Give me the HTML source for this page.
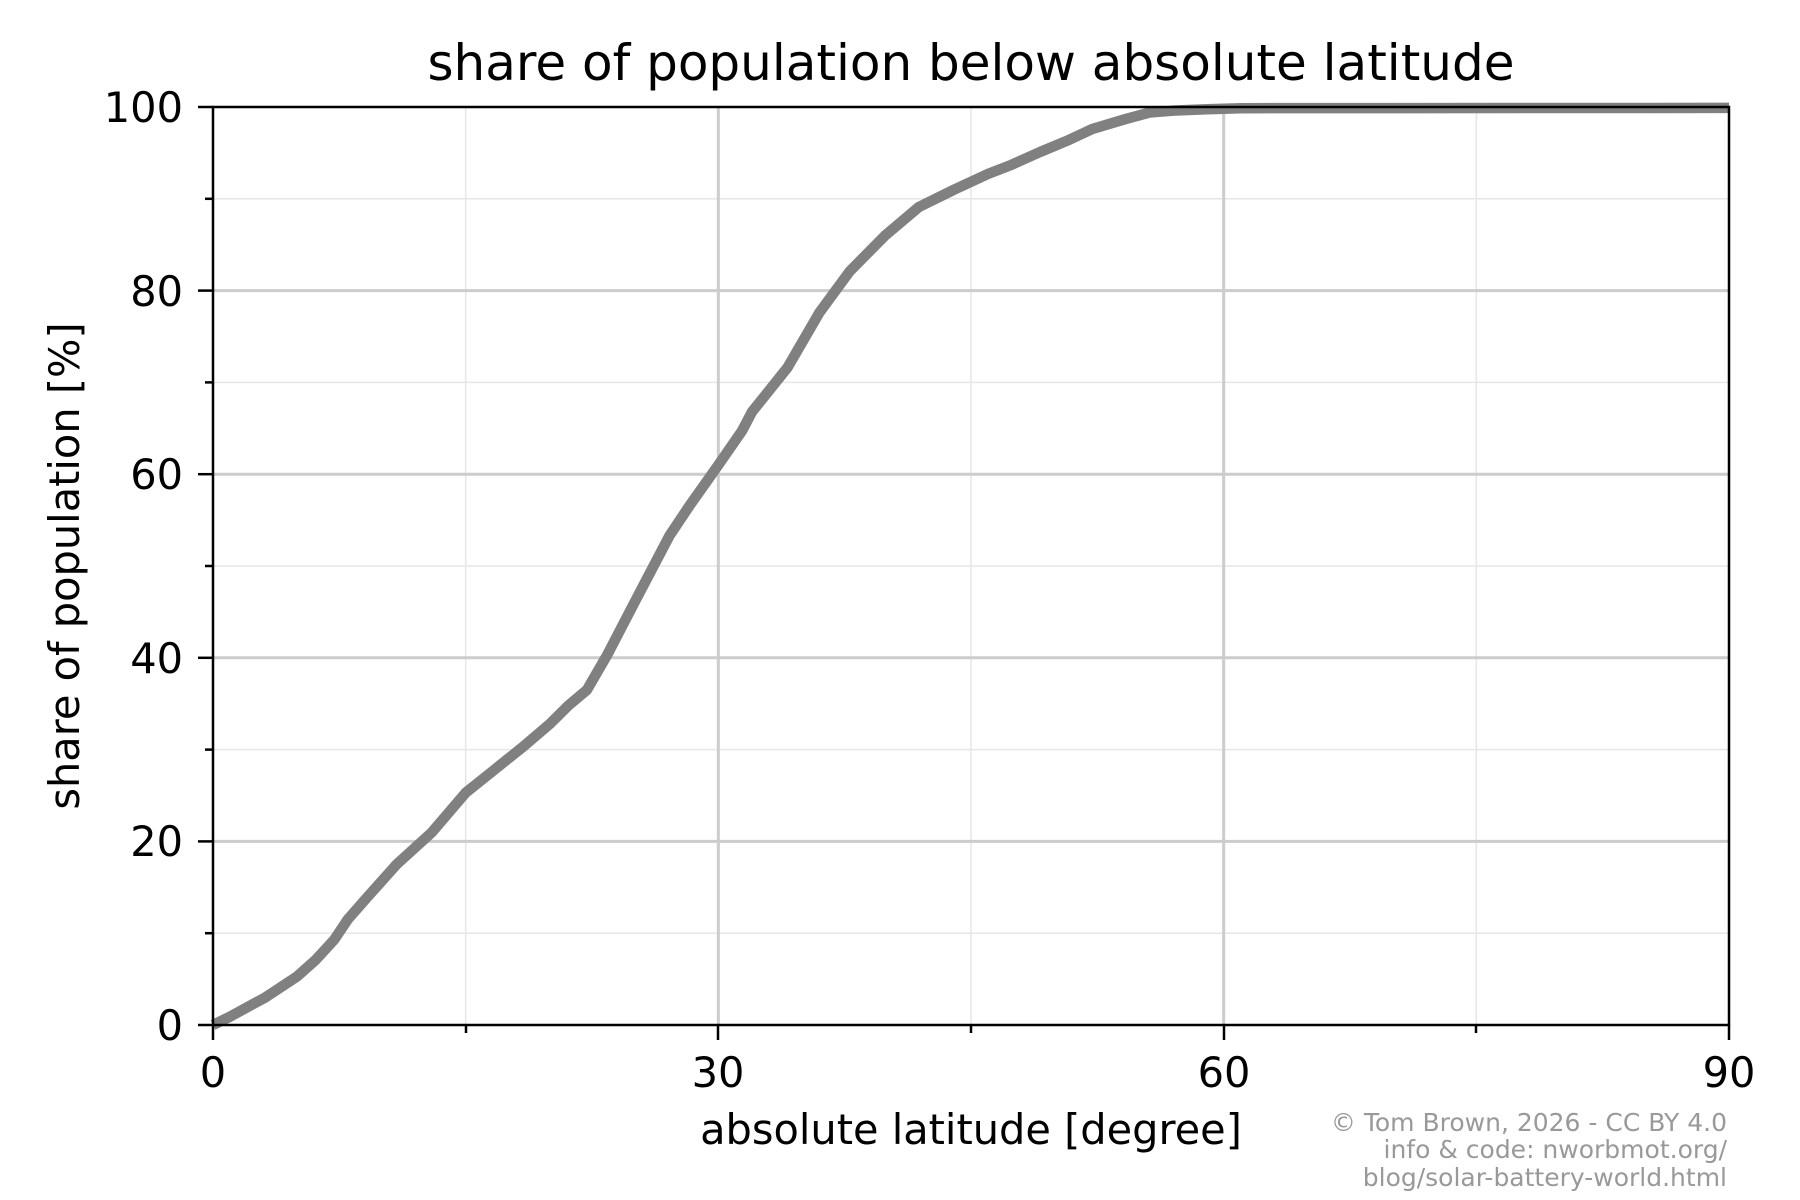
<!DOCTYPE html>
<html><head><meta charset="utf-8"><style>
html,body{margin:0;padding:0;background:#fff;}
svg{display:block;font-family:"DejaVu Sans","Liberation Sans",sans-serif;}
</style></head><body>
<svg width="1800" height="1200" viewBox="0 0 1800 1200" xmlns="http://www.w3.org/2000/svg">
<rect width="1800" height="1200" fill="#fff"/>
<g transform="translate(213,1025) scale(16.8444,-9.18)">
 <g stroke="#e6e6e6" stroke-width="1.5" fill="none">
  <line x1="15" y1="0" x2="15" y2="100" vector-effect="non-scaling-stroke"/>
  <line x1="45" y1="0" x2="45" y2="100" vector-effect="non-scaling-stroke"/>
  <line x1="75" y1="0" x2="75" y2="100" vector-effect="non-scaling-stroke"/>
  <line x1="0" y1="10" x2="90" y2="10" vector-effect="non-scaling-stroke"/>
  <line x1="0" y1="30" x2="90" y2="30" vector-effect="non-scaling-stroke"/>
  <line x1="0" y1="50" x2="90" y2="50" vector-effect="non-scaling-stroke"/>
  <line x1="0" y1="70" x2="90" y2="70" vector-effect="non-scaling-stroke"/>
  <line x1="0" y1="90" x2="90" y2="90" vector-effect="non-scaling-stroke"/>
 </g>
 <g stroke="#cccccc" stroke-width="3" fill="none">
  <line x1="30" y1="0" x2="30" y2="100" vector-effect="non-scaling-stroke"/>
  <line x1="60" y1="0" x2="60" y2="100" vector-effect="non-scaling-stroke"/>
  <line x1="0" y1="20" x2="90" y2="20" vector-effect="non-scaling-stroke"/>
  <line x1="0" y1="40" x2="90" y2="40" vector-effect="non-scaling-stroke"/>
  <line x1="0" y1="60" x2="90" y2="60" vector-effect="non-scaling-stroke"/>
  <line x1="0" y1="80" x2="90" y2="80" vector-effect="non-scaling-stroke"/>
 </g>
 <polyline fill="none" stroke="#808080" stroke-width="10.5" stroke-linejoin="round" vector-effect="non-scaling-stroke" points="0,0 1,0.9 3.1,3 5,5.3 6.1,7.1 7.2,9.3 8,11.5 9.1,13.8 10.9,17.5 13,21 15,25.3 16.7,27.8 18.4,30.3 20,32.8 21.1,34.8 22.2,36.5 23.4,40.3 24.9,45.6 27.1,53.3 28.3,56.6 30,61 31.4,64.7 32,66.8 34.1,71.6 36,77.6 37.8,82.1 39.9,86 41.9,89.1 44,91 46,92.7 47.4,93.7 49.1,95.1 50.8,96.4 52.2,97.6 54.2,98.7 55.6,99.4 57,99.6 59,99.75 61,99.87 90,99.9"/>
</g>
<rect x="213" y="107" width="1516" height="918" fill="none" stroke="#000" stroke-width="2.5"/>
<g stroke="#000" stroke-width="2.5">
 <line x1="213" y1="1025" x2="213" y2="1040"/>
 <line x1="718" y1="1025" x2="718" y2="1040"/>
 <line x1="1224" y1="1025" x2="1224" y2="1040"/>
 <line x1="1729" y1="1025" x2="1729" y2="1040"/>
 <line x1="466" y1="1025" x2="466" y2="1033"/>
 <line x1="971" y1="1025" x2="971" y2="1033"/>
 <line x1="1476" y1="1025" x2="1476" y2="1033"/>
 <line x1="198" y1="1025" x2="213" y2="1025"/>
 <line x1="198" y1="841.4" x2="213" y2="841.4"/>
 <line x1="198" y1="657.8" x2="213" y2="657.8"/>
 <line x1="198" y1="474.2" x2="213" y2="474.2"/>
 <line x1="198" y1="290.6" x2="213" y2="290.6"/>
 <line x1="198" y1="107" x2="213" y2="107"/>
 <line x1="205" y1="933.2" x2="213" y2="933.2"/>
 <line x1="205" y1="749.6" x2="213" y2="749.6"/>
 <line x1="205" y1="566" x2="213" y2="566"/>
 <line x1="205" y1="382.4" x2="213" y2="382.4"/>
 <line x1="205" y1="198.8" x2="213" y2="198.8"/>
</g>
<g font-size="41.5" fill="#000" text-anchor="end">
 <text x="183" y="1040">0</text>
 <text x="183" y="856">20</text>
 <text x="183" y="673">40</text>
 <text x="183" y="489">60</text>
 <text x="183" y="306">80</text>
 <text x="183" y="122">100</text>
</g>
<g font-size="41.5" fill="#000" text-anchor="middle">
 <text x="213" y="1087">0</text>
 <text x="718" y="1087">30</text>
 <text x="1224" y="1087">60</text>
 <text x="1729" y="1087">90</text>
 <text x="971" y="1144">absolute latitude [degree]</text>
 <text x="971" y="80" font-size="50">share of population below absolute latitude</text>
 <text transform="translate(79,566) rotate(-90)">share of population [%]</text>
</g>
<g font-size="25" fill="#999" text-anchor="end">
 <text x="1727" y="1131">© Tom Brown, 2026 - CC BY 4.0</text>
 <text x="1727" y="1158">info &amp; code: nworbmot.org/</text>
 <text x="1727" y="1186">blog/solar-battery-world.html</text>
</g>
</svg>
</body></html>
